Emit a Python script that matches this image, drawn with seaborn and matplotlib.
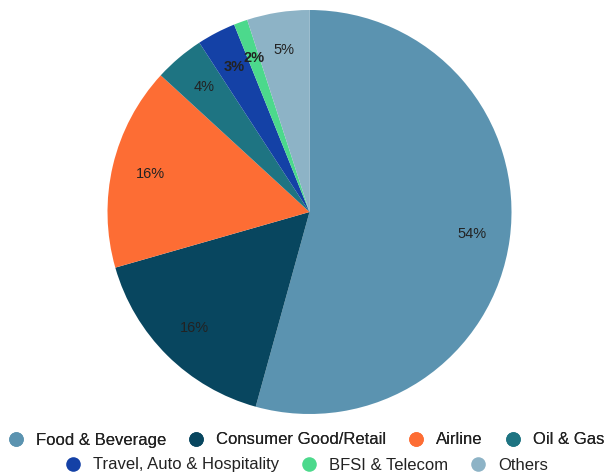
import matplotlib
matplotlib.use("Agg")
import matplotlib.pyplot as plt
from matplotlib.lines import Line2D
import seaborn as sns

categories = ["Food & Beverage", "Consumer Good/Retail", "Airline", "Oil & Gas",
              "Travel, Auto & Hospitality", "BFSI & Telecom", "Others"]
values = [54.4, 16.3, 16.3, 4.0, 3.1, 1.1, 5.0]
pct_labels = ["54%", "16%", "16%", "4%", "3%", "2%", "5%"]
colors = ["#5b93b0", "#08465f", "#fd6d34", "#1e7482", "#1441a6", "#4cd98c", "#8db3c6"]
bold_labels = [False, False, False, False, True, True, False]

sns.set_theme(style="white")
plt.rcParams['font.family'] = ['Liberation Sans', 'DejaVu Sans']

fig = plt.figure(figsize=(6.12, 4.74), dpi=100)
ax = fig.add_axes([107/612, 60/474, 405/612, 404/474])

wedges, texts = ax.pie(values, labels=pct_labels, colors=colors, startangle=90,
                       counterclock=False, labeldistance=0.81,
                       textprops=dict(fontsize=10.5, color="#222222", ha="center", va="center"),
                       wedgeprops=dict(linewidth=0))
for t, b in zip(texts, bold_labels):
    if b:
        t.set_fontweight("bold")
ax.set_xlim(-1, 1)
ax.set_ylim(-1, 1)
ax.set_aspect("equal")
ax.axis("off")

def handles(idx):
    return [Line2D([0], [0], marker="o", linestyle="", markersize=10.5,
                   markerfacecolor=colors[i], markeredgewidth=0) for i in idx]

row1 = [0, 1, 2, 3]
row2 = [4, 5, 6]
kw = dict(frameon=False, fontsize=12, handletextpad=0.7, columnspacing=1.3,
          borderaxespad=0, handlelength=1.0, labelcolor="#222222")
leg1 = fig.legend(handles(row1), [categories[i] for i in row1], ncol=4,
                  loc="center", bbox_to_anchor=(0.5, 1 - 440/474), **kw)
fig.add_artist(leg1)
leg2 = fig.legend(handles(row2), [categories[i] for i in row2], ncol=3,
                  loc="center", bbox_to_anchor=(0.5, 1 - 465/474), **kw)

fig.savefig("out.png", dpi=100)
